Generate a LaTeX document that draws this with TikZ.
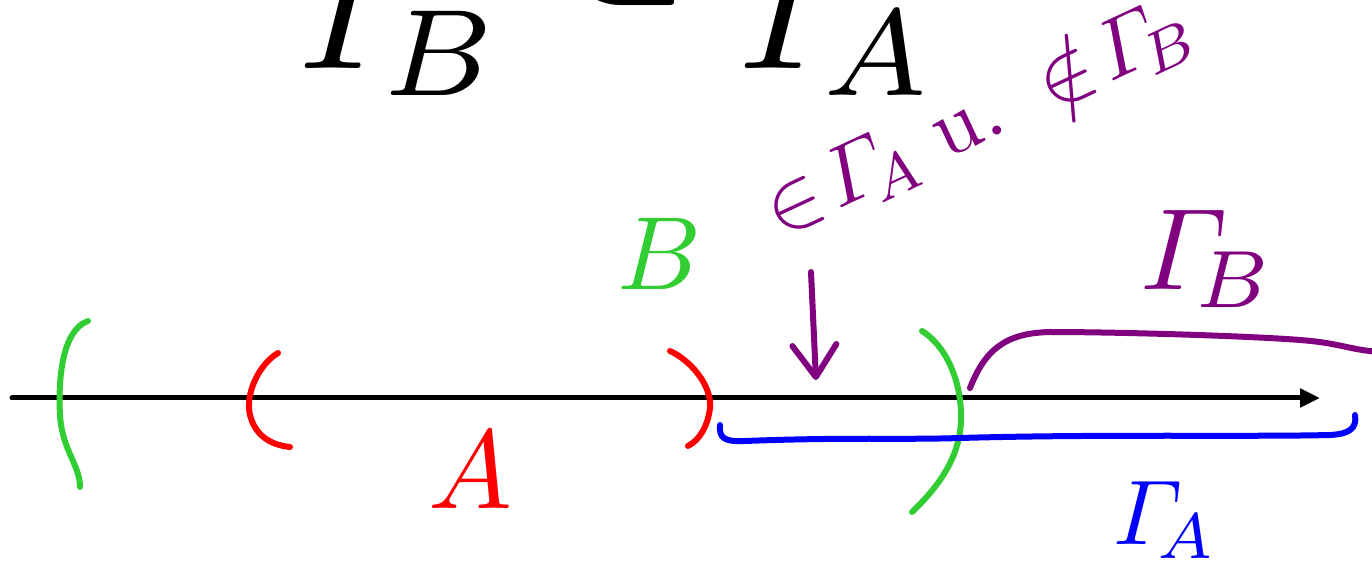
\documentclass[tikz,border=0pt]{standalone}
\usepackage{amsmath,amssymb}
\usepackage{tikz}
\usetikzlibrary{arrows.meta,positioning}

\definecolor{penGreen}{RGB}{50,205,50}
\definecolor{penRed}{RGB}{255,0,0}
\definecolor{penBlue}{RGB}{0,0,255}
\definecolor{penPurple}{RGB}{128,0,128}

\begin{document}
\begin{tikzpicture}[x=0.5pt,y=-0.5pt,>=Stealth,
  pen/.style={line width=3pt,line cap=round,line join=round},
  lbl/.style={inner sep=0pt,scale=#1}]
  \useasboundingbox (0,0) rectangle (1372,588);
  \clip (0,0) rectangle (1372,588);
  \coordinate (start) at (12,398);
  \coordinate (end) at (1320,398);
  \draw[line width=2.5pt,line cap=round,-{Triangle[length=10pt,width=9pt]}] (start) -- (end);
  \draw[pen,penGreen] (88,321) .. controls (62,330) and (58,380) .. (60,415) .. controls (62,450) and (80,465) .. (80,487);
  \draw[pen,penRed] (278,353) .. controls (258,365) and (245,395) .. (250,415) .. controls (255,435) and (270,445) .. (290,447);
  \draw[pen,penRed] (670,351) .. controls (690,360) and (712,385) .. (710,408) .. controls (708,425) and (700,440) .. (688,446);
  \draw[pen,penGreen] (922,331) .. controls (945,345) and (962,380) .. (961,420) .. controls (960,460) and (935,490) .. (912,512);
  \draw[pen,penBlue] (720,425) .. controls (719,438) and (724,442) .. (745,441) .. controls (850,437) and (900,440) .. (960,438) .. controls (1100,434) and (1250,437) .. (1330,435) .. controls (1350,434) and (1357,428) .. (1355,415);
  \draw[pen,penPurple] (970,388) .. controls (985,350) and (1005,333) .. (1050,332) .. controls (1120,332) and (1250,336) .. (1300,340) .. controls (1340,343) and (1350,350) .. (1380,352);
  \node[lbl=8.8,anchor=base west] (incl) at (295,69) {$\varGamma_{\!B}\mathrel{\raisebox{4pt}{$\subset$}}\varGamma_{\!A}$};
  \node[lbl=5.2,text=penGreen] (labB) at (660,254) {$B$};
  \node[lbl=5.6,text=penRed] (labA) at (470,470) {$A$};
  \node[lbl=4.2,text=penPurple,anchor=base west,rotate=25] (member) at (778,238) {$\in\!\varGamma_{\!A}\;\text{u.}\;\notin\!\varGamma_{\!B}$};
  \node[lbl=5.8,text=penPurple,anchor=base west] (gamB) at (1138,290) {$\varGamma_{\!B}$};
  \node[lbl=4.6,text=penBlue,anchor=base west] (gamA) at (1112,545) {$\varGamma_{\!A}$};
  \coordinate (hint) at (811,272);
  \coordinate (hit) at (816,380);
  \draw[pen,penPurple,-{Straight Barb[length=16pt,width=22pt,round]}] (hint) -- (hit);
\end{tikzpicture}
\end{document}
